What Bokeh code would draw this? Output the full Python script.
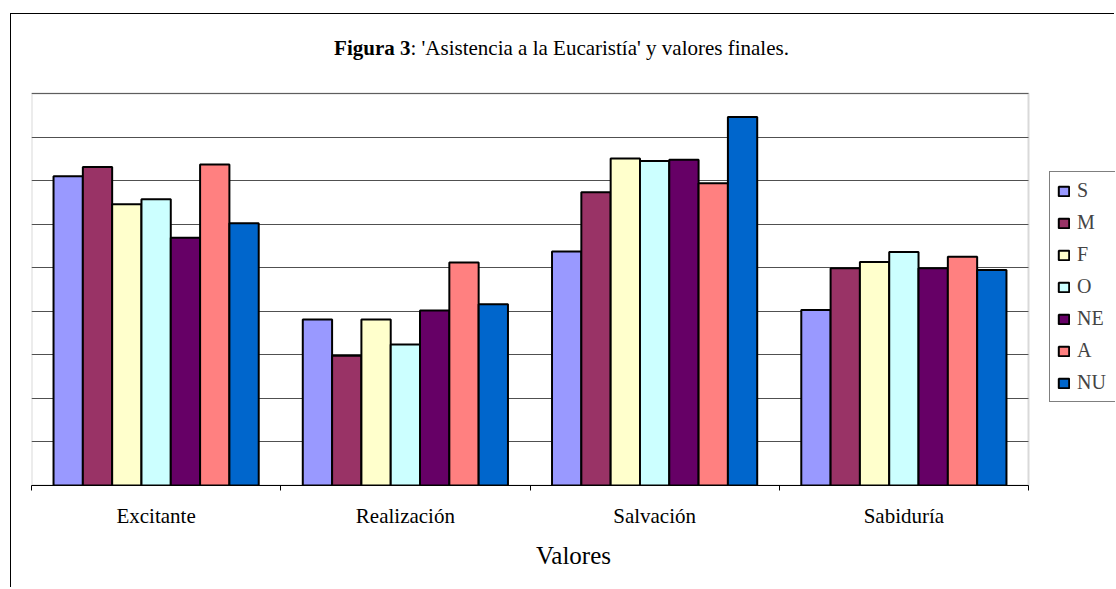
from bokeh.plotting import figure
from bokeh.models import (ColumnDataSource, FixedTicker, Legend, LegendItem, Label, Range1d, BoxAnnotation)
from bokeh.embed import file_html
from bokeh.resources import INLINE

categories = ["Excitante", "Realización", "Salvación", "Sabiduría"]
series_names = ["S", "M", "F", "O", "NE", "A", "NU"]
S = [7.10, 3.81, 5.37, 4.03]
M = [7.31, 2.98, 6.73, 4.99]
F = [6.46, 3.81, 7.51, 5.13]
O = [6.57, 3.24, 7.45, 5.36]
NE = [5.69, 4.02, 7.48, 4.99]
A = [7.37, 5.12, 6.94, 5.25]
NU = [6.02, 4.16, 8.46, 4.95]
colors = ["#9999FF", "#993366", "#FFFFCC", "#CCFFFF", "#660066", "#FF8080", "#0066CC"]
values = [S, M, F, O, NE, A, NU]
y_max = 9
title_bold = "Figura 3"
title_rest = ": 'Asistencia a la Eucaristía' y valores finales."
x_title = "Valores"

FONT = "Liberation Serif"

W, H = 1104, 574
left_b, bottom_b = 20, 103
frame_w, frame_h = W - left_b, H - bottom_b
ncat = len(categories)
px_x = 997 / ncat          # plot area width in px per category
px_y = 392 / y_max         # plot area height in px per unit

p = figure(width=W, height=H, output_backend="svg", toolbar_location=None,
           x_range=Range1d(0, frame_w / px_x), y_range=Range1d(0, frame_h / px_y),
           min_border_left=left_b, min_border_top=0, min_border_right=0,
           min_border_bottom=bottom_b)
p.margin = (13, 0, 0, 10)
p.styles = {"border-left": "1px solid black", "border-top": "1px solid black"}
p.background_fill_color = "white"
p.border_fill_color = "white"
p.outline_line_color = None

p.add_layout(BoxAnnotation(left=0, right=ncat, bottom=0, top=y_max, fill_alpha=0,
                           line_color="#808080", line_width=2, level="underlay"))

bw = 0.1176
items = []
for k, (name, vals, col) in enumerate(zip(series_names, values, colors)):
    src = ColumnDataSource(dict(x=[i + 0.5 + (k - 3) * bw for i in range(ncat)], top=vals))
    r = p.vbar(x="x", top="top", width=bw, bottom=0, source=src, fill_color=col,
               line_color="black", line_width=2)
    items.append(LegendItem(label=name, renderers=[r]))

legend = Legend(items=items, location=(1018, 83), border_line_color="black", border_line_width=1,
                glyph_width=13, glyph_height=12, label_text_font=FONT, label_text_font_size="20px",
                label_height=20, spacing=9, padding=7, margin=0, label_standoff=7, label_width=50,
                background_fill_color="white", background_fill_alpha=1)
p.add_layout(legend)

p.yaxis.visible = False
p.ygrid.ticker = FixedTicker(ticks=list(range(1, y_max + 1)))
p.ygrid.cross_bounds = (0, ncat)
p.ygrid.grid_line_color = "#505050"
p.ygrid.grid_line_width = 1
p.xgrid.visible = False

xa = p.xaxis[0]
xa.bounds = (0, ncat)
xa.ticker = FixedTicker(ticks=[i + 0.5 for i in range(ncat)], minor_ticks=list(range(ncat + 1)))
xa.major_label_overrides = {i + 0.5: c for i, c in enumerate(categories)}
xa.major_tick_out = 0
xa.major_tick_in = 0
xa.minor_tick_out = 5
xa.minor_tick_in = 0
xa.minor_tick_line_color = "black"
xa.axis_line_color = "black"
xa.axis_line_width = 1
xa.major_label_text_font = FONT
xa.major_label_text_font_size = "21px"
xa.major_label_text_color = "black"
xa.major_label_standoff = 13
xa.axis_label = x_title
xa.axis_label_text_font = FONT
xa.axis_label_text_font_size = "25px"
xa.axis_label_text_font_style = "normal"
xa.axis_label_text_color = "black"
xa.axis_label_standoff = 11

ty = (485 - 47) / px_y
tx = (410 - 31) / px_x
p.add_layout(Label(x=tx, y=ty, text=title_bold, text_font=FONT, text_font_size="21px",
                   text_font_style="bold", text_align="right", text_baseline="middle",
                   text_color="black"))
p.add_layout(Label(x=tx, y=ty, text=title_rest, text_font=FONT, text_font_size="21px",
                   text_align="left", text_baseline="middle", text_color="black"))

open("out.html", "w").write(file_html(p, INLINE))
